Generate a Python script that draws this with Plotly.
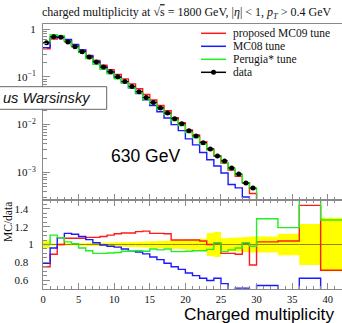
import plotly.graph_objects as go

# ---------------- data ----------------
bin_edges = list(range(0, 31)) + [33, 36, 39, 45]

data_vals = [0.517, 0.69, 0.67, 0.535, 0.426, 0.336, 0.26, 0.204, 0.16, 0.128,
             0.100, 0.080, 0.063, 0.049, 0.037, 0.029, 0.0224, 0.0174, 0.0133, 0.0104,
             0.0074, 0.0058, 0.0042, 0.0031, 0.0022, 0.00174, 0.00124, 0.00093, 0.00060, 0.00047,
             0.00016, 0.00008, 0.00003, 0.00001]

ratio_mc09 = [0.75, 0.89, 1.00, 1.07, 1.07, 1.07, 1.08, 1.08, 1.09, 1.105,
              1.12, 1.13, 1.13, 1.145, 1.15, 1.125, 1.125, 1.12, 1.05, 1.05,
              1.05, 1.05, 1.04, 1.00, 1.01, 0.90, 0.90, 0.89, 1.01, 0.77,
              1.03, 1.04, 1.44, 0.71]

ratio_mc08 = [0.79, 0.96, 1.075, 1.125, 1.115, 1.09, 1.055, 1.02, 0.995, 0.98,
              0.97, 0.95, 0.93, 0.915, 0.895, 0.86, 0.83, 0.79, 0.75, 0.72,
              0.68, 0.65, 0.62, 0.595, 0.62, 0.56, 0.45, 0.51, 0.51, 0.45,
              0.54, 0.45, 0.62, 0.45]

ratio_perugia = [1.00, 1.105, 1.077, 1.03, 1.01, 0.96, 0.93, 0.90, 0.90, 0.905,
                 0.91, 0.925, 0.93, 0.93, 0.925, 0.95, 0.94, 0.95, 0.92, 0.92,
                 0.925, 0.93, 0.93, 0.945, 1.02, 0.92, 0.94, 0.96, 1.02, 0.98,
                 1.29, 1.19, 1.70, 1.275]

data_rel_err = [0.045, 0.012, 0.010, 0.010, 0.012, 0.014, 0.016, 0.018, 0.020, 0.022,
                0.024, 0.026, 0.028, 0.030, 0.033, 0.036, 0.040, 0.043, 0.047, 0.050,
                0.055, 0.060, 0.065, 0.130, 0.140, 0.070, 0.075, 0.080, 0.085, 0.090,
                0.090, 0.120, 0.230, 0.300]

x_ticks = [0, 5, 10, 15, 20, 25, 30, 35, 40]
y_main_ticks = [1e-3, 1e-2, 1e-1, 1]
y_main_labels = ["10<sup>\u22123</sup>", "10<sup>\u22122</sup>", "10<sup>\u22121</sup>", "1"]
y_ratio_ticks = [0.6, 0.8, 1.0, 1.2, 1.4]
y_ratio_labels = ["0.6\u00a0\u00a0", "0.8\u00a0\u00a0", "1", "1.2\u00a0\u00a0", "1.4\u00a0\u00a0"]

names = ["proposed MC09 tune", "MC08 tune", "Perugia* tune"]
colors = ["#ff1a1a", "#1a1aff", "#22ee22"]
ratios = [ratio_mc09, ratio_mc08, ratio_perugia]
legend_names = names + ["data"]
legend_colors = colors + ["black"]

# ---------------- helpers ----------------
def step(vals):
    return list(bin_edges), list(vals) + [vals[-1]]

centers = [(bin_edges[i] + bin_edges[i + 1]) / 2 for i in range(len(data_vals))]
halfw = [(bin_edges[i + 1] - bin_edges[i]) / 2 for i in range(len(data_vals))]

SERIF = "Liberation Serif"
AXCOL = "#8a8a8a"

fig = go.Figure()

# ---------------- ratio panel ----------------
up = [1 + e for e in data_rel_err]
lo = [1 - e for e in data_rel_err]
xs, ys = step(up)
fig.add_trace(go.Scatter(x=xs, y=ys, mode="lines", line=dict(width=0, shape="hv"),
                         showlegend=False, xaxis="x2", yaxis="y2", hoverinfo="skip"))
xs, ys = step(lo)
fig.add_trace(go.Scatter(x=xs, y=ys, mode="lines", line=dict(width=0, shape="hv"),
                         fill="tonexty", fillcolor="#ffff00",
                         showlegend=False, xaxis="x2", yaxis="y2", hoverinfo="skip"))
xs, ys = step([d / d for d in data_vals])
fig.add_trace(go.Scatter(x=xs, y=ys, mode="lines", line=dict(width=1, color="#8c8c00", shape="hv"),
                         showlegend=False, xaxis="x2", yaxis="y2"))
for name, col, r in zip(names, colors, ratios):
    xs, ys = step(r)
    fig.add_trace(go.Scatter(x=xs, y=ys, mode="lines", line=dict(width=1.4, color=col, shape="hv"),
                             showlegend=False, xaxis="x2", yaxis="y2"))

# ---------------- main panel ----------------
for name, col, r in zip(names, colors, ratios):
    mc = [rv * dv for rv, dv in zip(r, data_vals)]
    xs, ys = step(mc)
    fig.add_trace(go.Scatter(x=xs, y=ys, mode="lines", name=name, showlegend=False,
                             line=dict(width=1.4, color=col, shape="hv"),
                             xaxis="x", yaxis="y"))
fig.add_trace(go.Scatter(x=centers, y=data_vals, mode="markers", showlegend=False,
                         marker=dict(color="black", size=5),
                         error_x=dict(type="data", array=halfw, width=0, thickness=1, color="black"),
                         xaxis="x", yaxis="y"))

# ---------------- layout ----------------
W, H = 342, 323
L, R, T, B = 43, 0, 24, 34
PH = H - T - B
PW = W - L - R
split = 89 / PH

def px_x(p):
    return (p - L) / PW

def px_y(p):
    return (H - B - p) / PH

minor_log = [m * 10 ** k for k in range(-4, 1) for m in range(2, 10)]

tickfont = dict(family=SERIF, size=11, color="#111")

# hand-made legend (keys + labels)
shapes = [dict(type="rect", xref="paper", yref="paper",
               x0=px_x(-60), x1=px_x(106.7), y0=px_y(109.3), y1=px_y(86.7),
               line=dict(color="#666", width=1), fillcolor="white", layer="above")]
annotations = []
leg_y0, leg_dy = 33.3, 13.0
for i, (nm, col) in enumerate(zip(legend_names, legend_colors)):
    yy = px_y(leg_y0 + i * leg_dy)
    shapes.append(dict(type="line", xref="paper", yref="paper",
                       x0=px_x(201), x1=px_x(226), y0=yy, y1=yy,
                       line=dict(color=col, width=1.5)))
    annotations.append(dict(text=nm, xref="paper", yref="paper", x=px_x(231), y=yy,
                            xanchor="left", yanchor="middle", showarrow=False,
                            font=dict(family=SERIF, size=11.5, color="#111")))
    if nm == "data":
        rr = 2.5
        shapes.append(dict(type="circle", xref="paper", yref="paper",
                           x0=px_x(213.5 - rr), x1=px_x(213.5 + rr),
                           y0=px_y(leg_y0 + i * leg_dy + rr), y1=px_y(leg_y0 + i * leg_dy - rr),
                           line=dict(color="black", width=0), fillcolor="black"))

annotations += [
    dict(text="<i>us Warsinsky</i>", xref="paper", yref="paper",
         x=px_x(92), y=px_y(98), xanchor="right", yanchor="middle", showarrow=False,
         borderpad=0,
         font=dict(family="Liberation Sans", size=14.6, color="#111")),
    dict(text="630 GeV", xref="paper", yref="paper",
         x=px_x(109), y=px_y(155.5), xanchor="left", yanchor="middle", showarrow=False,
         font=dict(family="Liberation Sans", size=17.5, color="black")),
    dict(text="Charged multiplicity", xref="paper", yref="paper",
         x=px_x(336), y=px_y(314), xanchor="right", yanchor="middle", showarrow=False,
         font=dict(family="Liberation Sans", size=17.2, color="black")),
    dict(text="MC/data", xref="paper", yref="paper", textangle=-90,
         x=px_x(8), y=px_y(222), xanchor="center", yanchor="middle", showarrow=False,
         font=dict(family=SERIF, size=11.5, color="#111")),
]

fig.update_layout(
    width=W, height=H,
    margin=dict(l=L, r=R, t=T, b=B, pad=0),
    paper_bgcolor="white", plot_bgcolor="white",
    showlegend=False,
    title=dict(text="charged multiplicity at \u221a<span style='text-decoration:overline'>s</span> = 1800 GeV, |<i>\u03b7</i>| &lt; 1, <i>p</i><sub><i>T</i></sub> &gt; 0.4 GeV",
               font=dict(family=SERIF, size=12, color="#111"),
               x=42 / W, xanchor="left", xref="container",
               y=1 - 12 / H, yanchor="middle", yref="container"),
    xaxis=dict(domain=[0, 1], anchor="y", range=[0, 42], showgrid=False, zeroline=False,
               showline=True, linecolor=AXCOL, linewidth=1, mirror=True,
               ticks="inside", ticklen=6, tickcolor=AXCOL, tickvals=x_ticks,
               minor=dict(dtick=1, tick0=0, ticks="inside", ticklen=3, tickcolor=AXCOL),
               showticklabels=False),
    yaxis=dict(domain=[split, 1], anchor="x", type="log", range=[-3.577, 0.105],
               showgrid=False, zeroline=False, showline=True, linecolor=AXCOL, linewidth=1,
               ticks="inside", ticklen=7, tickcolor=AXCOL,
               tickvals=y_main_ticks, ticktext=y_main_labels, tickfont=tickfont,
               ticklabelstandoff=4,
               minor=dict(tickvals=minor_log, ticks="inside", ticklen=4, tickcolor=AXCOL)),
    xaxis2=dict(domain=[0, 1], anchor="y2", range=[0, 42], showgrid=False, zeroline=False,
                showline=True, linecolor=AXCOL, linewidth=1, mirror="ticks",
                ticks="inside", ticklen=6, tickcolor=AXCOL, tickvals=x_ticks,
                minor=dict(dtick=1, tick0=0, ticks="inside", ticklen=3, tickcolor=AXCOL),
                tickfont=dict(family=SERIF, size=10.5, color="#111")),
    yaxis2=dict(domain=[0, split], anchor="x2", range=[0.5, 1.5], showgrid=False, zeroline=False,
                showline=True, linecolor=AXCOL, linewidth=1,
                ticks="inside", ticklen=7, tickcolor=AXCOL,
                tickvals=y_ratio_ticks, ticktext=y_ratio_labels, tickfont=tickfont,
                ticklabelstandoff=6,
                minor=dict(dtick=0.05, tick0=0, ticks="inside", ticklen=4, tickcolor=AXCOL)),
    shapes=shapes,
    annotations=annotations,
)

fig.write_html("out.html")
